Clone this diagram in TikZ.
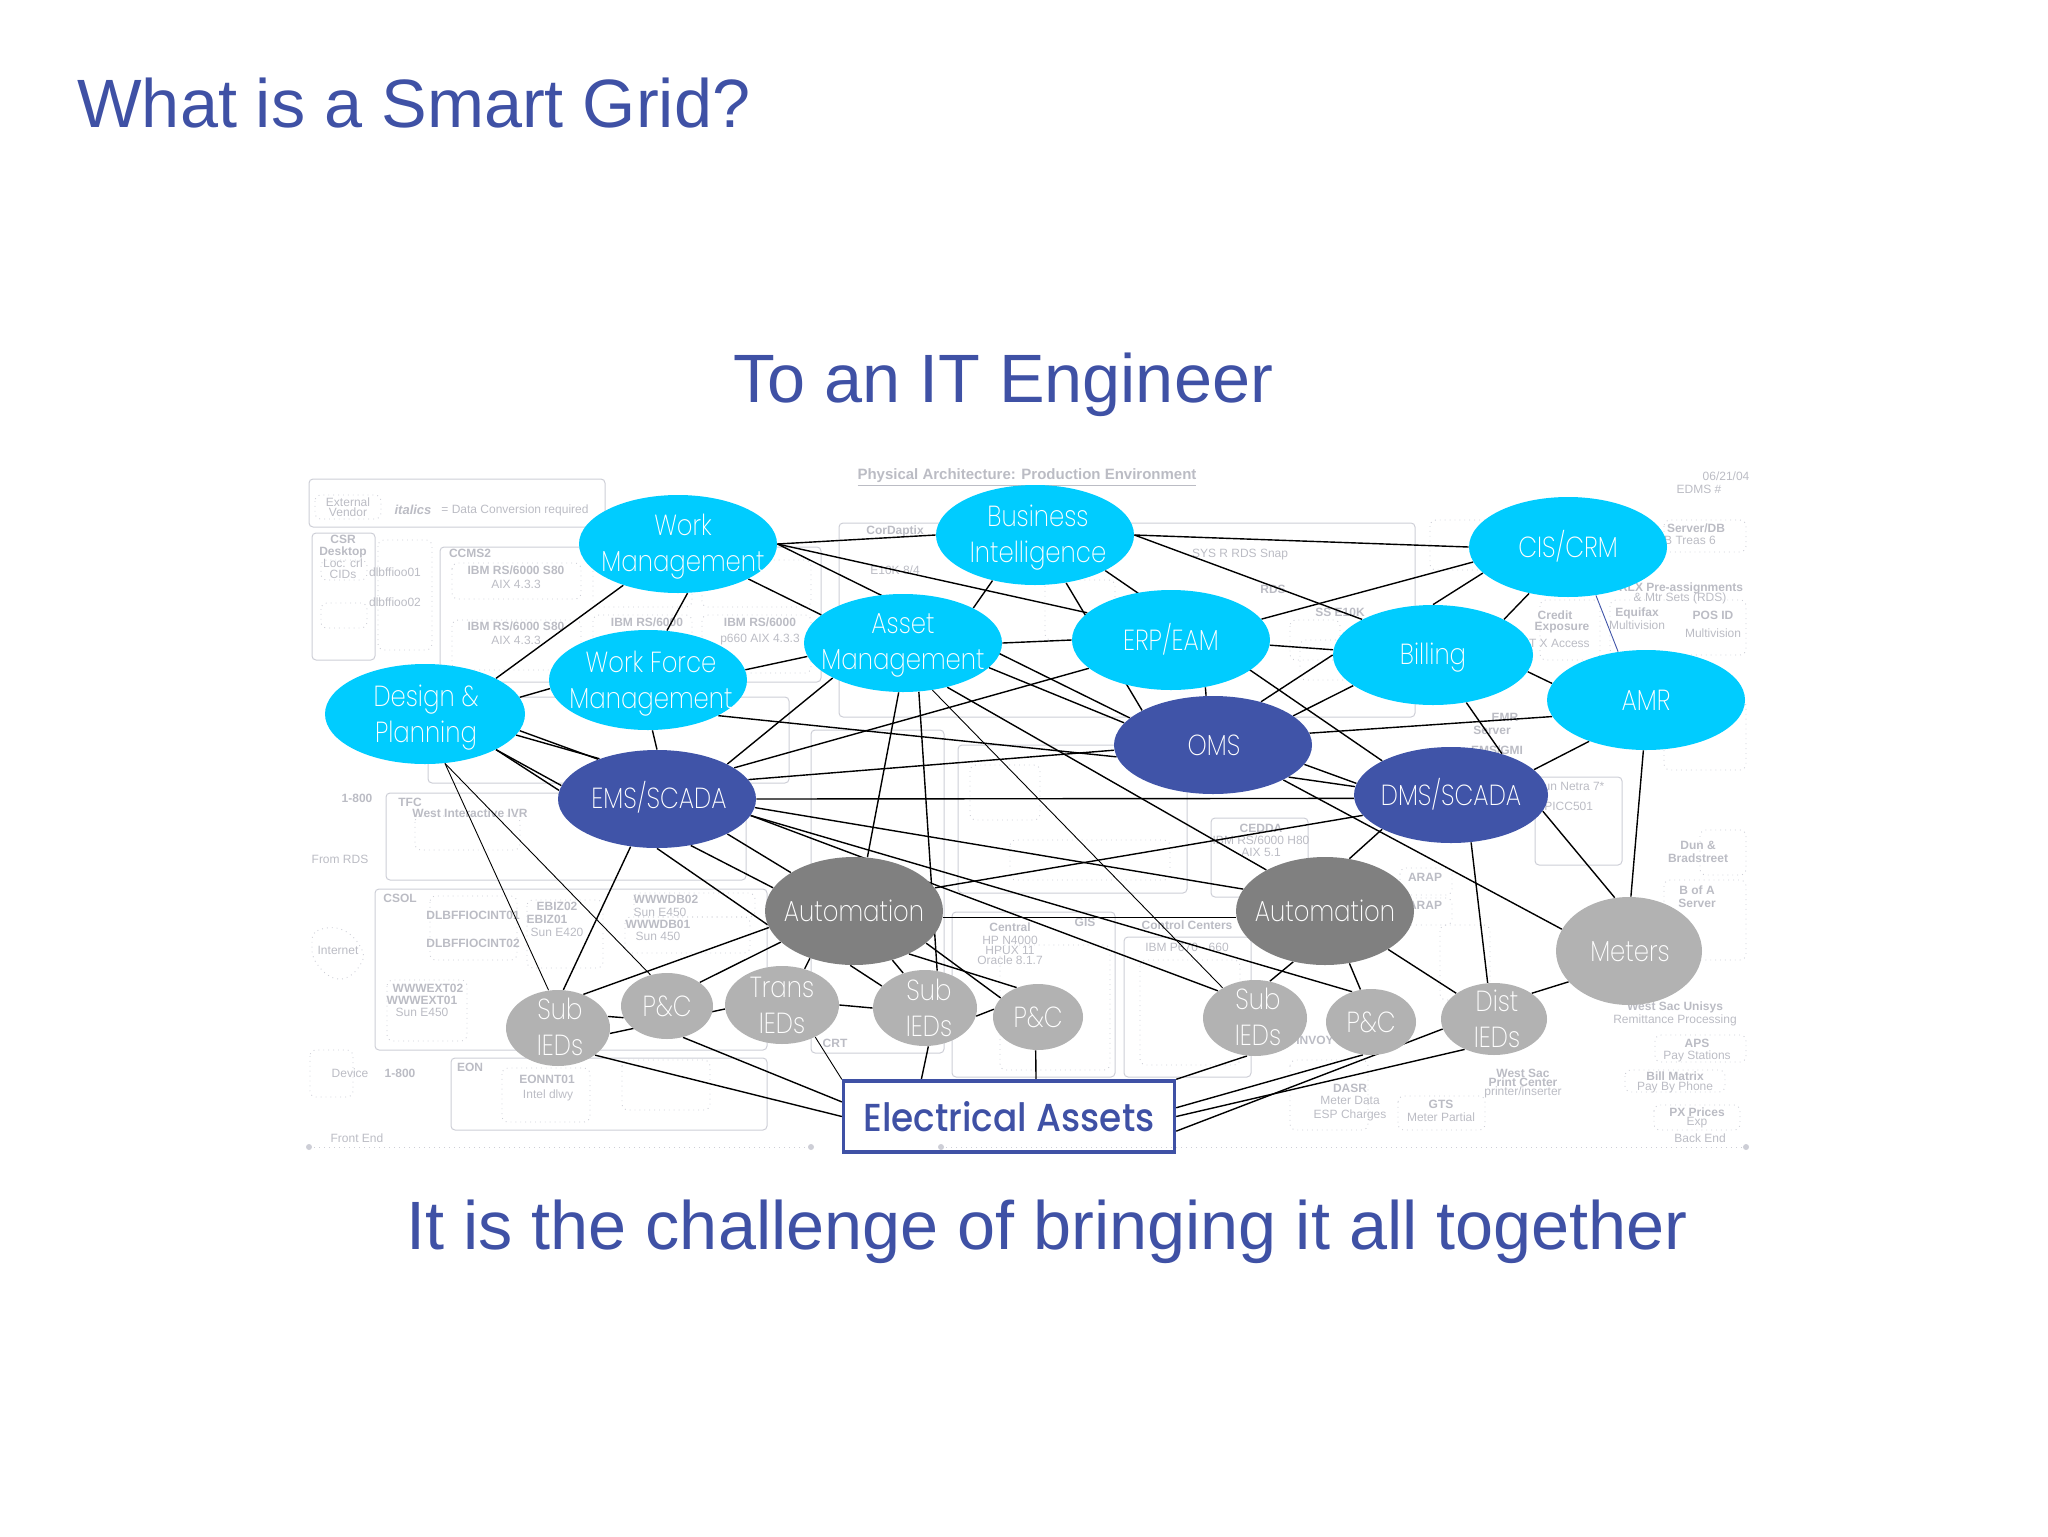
\documentclass[tikz,border=0pt]{standalone}
\usepackage{fontspec}
\setmainfont{Liberation Sans}
\newfontfamily\bubblefont[UprightFont={* ExtraLight},FakeStretch=0.84]{Poppins}
\newfontfamily\assetfont[UprightFont={* Medium},FakeStretch=0.92]{Poppins}
\usetikzlibrary{shapes.geometric}
\definecolor{slideblue}{HTML}{3F51A5}
\definecolor{skycyan}{HTML}{00CCFF}
\definecolor{scadablue}{HTML}{4054A8}
\definecolor{autogray}{HTML}{808080}
\definecolor{iedgray}{HTML}{B2B2B2}
\definecolor{faintgray}{HTML}{CDCED6}
\definecolor{fainttext}{HTML}{BBBCC4}
\pgfdeclarelayer{faint}
\pgfdeclarelayer{wires}
\pgfsetlayers{faint,wires,main}
\tikzset{
	headline/.style={font=\fontsize{34.2}{38}\selectfont, text=slideblue, inner sep=0pt},
	bubble/.style={shape=ellipse, inner sep=0pt, minimum width=2*#1*0.5pt},
	tall/.style={minimum height=2*#1*0.5pt},
	erpbubble/.style={fill=skycyan},
	scadabubble/.style={fill=scadablue},
	autobubble/.style={fill=autogray},
	iedbubble/.style={fill=iedgray},
	bubbletext/.style={font=\bubblefont\fontsize{14.5}{18}\selectfont, text=white, align=center, inner sep=0pt},
	twoline/.style={bubbletext, yshift=-1.3pt},
	wire/.style={black, line width=0.7pt},
	thinwire/.style={black, line width=0.45pt},
	faintline/.style={faintgray, line width=0.5pt, rounded corners=2pt},
	faintdots/.style={faintgray, line width=0.45pt, dotted, rounded corners=3pt},
	faintlabel/.style={font=\fontsize{6}{7}\selectfont, text=fainttext, inner sep=0pt},
	faintbold/.style={font=\bfseries\fontsize{6}{7}\selectfont, text=fainttext, inner sep=0pt},
}
\begin{document}
\begin{tikzpicture}[x=0.5pt, y=-0.5pt]
	\useasboundingbox (0,0) rectangle (2048,1536);
	% Headlines:
	\node[headline, anchor=west] (title) at (77,103) {What is a Smart Grid?};
	\node[headline] (subtitle) at (1003,385) {To an IT Engineer};
	\node[headline] (closing) at (1047,1232) {It is the challenge of bringing it all together};
	% Faded architecture sheet behind the bubbles:
	\begin{pgfonlayer}{faint}
		\foreach \xa/\ya/\xb/\yb in {309/479/605/527, 312/533/375/660, 440/547/821/682, 428/697/789/783, 386/793/746/880, 375/889/767/1050, 451/1058/767/1130, 839/523/1415/717, 811/730/944/1053, 958/745/1187/893, 952/912/1115/1077, 1124/937/1251/1077, 1211/818/1308/897, 1535/777/1622/865}
			\draw[faintline] (\xa,\ya) rectangle (\xb,\yb);
		\foreach \xa/\ya/\xb/\yb in {315/495/381/519, 452/563/581/599, 452/620/581/670, 593/560/692/607, 702/560/811/607, 593/615/692/673, 702/615/811/673, 321/560/367/580, 321/603/367/628, 378/540/432/650, 1664/520/1746/552, 1610/600/1746/655, 1540/600/1600/660, 1664/700/1746/770, 1700/830/1746/875, 1664/880/1746/960, 1655/1035/1746/1062, 1625/1070/1725/1092, 1654/1105/1740/1130, 1290/1060/1368/1130, 1398/1096/1485/1130, 1400/868/1452/895, 1400/898/1452/925, 1440/925/1490/1000, 310/1050/353/1097, 502/1068/590/1122, 622/1060/710/1110, 430/896/517/960, 527/900/603/968, 625/917/750/953, 634/893/755/917, 387/980/467/1041, 415/816/520/850, 1430/520/1505/570, 1045/580/1115/640, 1290/620/1340/660, 1300/640/1400/680, 1000/945/1110/1070, 1140/960/1240/1065, 970/765/1040/820, 1010/840/1170/880}
			\draw[faintdots] (\xa,\ya) rectangle (\xb,\yb);
		\draw[faintdots] (312,933) .. controls (330,925) and (350,925) .. (365,956) .. controls (350,985) and (330,985) .. (312,956) -- cycle;
		\draw[faintline, dotted] (309,1147) -- (811,1147);
		\draw[faintline, dotted] (941,1147) -- (1746,1147);
		\foreach \x/\y in {309/1147, 811/1147, 941/1147, 1746/1147}
			\fill[faintgray] (\x,\y) circle (3);
		\foreach [count=\i] \x/\y/\t in {348/502/External, 348/512/Vendor, 515/510/{= Data Conversion required}, 343/563/Loc: crl, 343/574/CIDs, 395/572/{dlbffioo01}, 395/602/{dlbffioo02}, 516/584/{AIX 4.3.3}, 516/640/{AIX 4.3.3}, 760/640/{p660 AIX 4.3.3}, 340/859/{From RDS}, 350/1073/Device, 338/950/Internet, 548/1095/{Intel dlwy}, 895/570/{E10K 8/4}, 1240/555/{SYS R RDS Snap}, 1010/940/{HP N4000}, 1010/950/{HPUX 11}, 1010/960/{Oracle 8.1.7}, 1187/947/{IBM P670 - 660}, 1261/840/{IBM RS/6000 H80}, 1261/852/{AIX 5.1}, 1560/806/{PGPICC501}, 1570/786/{Sun Netra 7*}, 1690/540/{B Treas 6}, 1680/598/{\& Mtr Sets (RDS)}, 1555/643/{NT X Access}, 1637/625/Multivision, 1713/633/Multivision, 1675/1020/{Remittance Processing}, 1697/1056/{Pay Stations}, 1675/1087/{Pay By Phone}, 1697/1123/{Exp}, 1441/1117/{Meter Partial}, 1523/1092/{printer/inserter}, 357/1138/{Front End}, 1700/1138/{Back End}, 1726/476/{06/21/04}, 1699/489/{EDMS \#}, 1350/1100/{Meter Data}, 1350/1115/{ESP Charges}, 660/912/{Sun E450}, 658/936/{Sun 450}, 422/1012/{Sun E450}, 557/932/{Sun E420}}
			\node[faintlabel] (flabel\i) at (\x,\y) {\t};
		\foreach [count=\i] \x/\y/\t in {343/539/CSR, 343/552/Desktop, 470/553/{CCMS2}, 516/570/{IBM RS/6000 S80}, 516/626/{IBM RS/6000 S80}, 647/622/{IBM RS/6000}, 760/622/{IBM RS/6000}, 410/802/TFC, 470/813/{West Interactive IVR}, 357/798/{1-800}, 400/898/CSOL, 470/1067/EON, 547/1079/EONNT01, 400/1073/{1-800}, 895/531/CorDaptix, 1273/589/RDS, 1340/612/{SS E10K}, 1261/828/CEDDA, 1696/528/{Server/DB}, 1681/588/{RLX Pre-assignments}, 1555/615/Credit, 1562/628/Exposure, 1637/613/Equifax, 1713/615/{POS ID}, 1698/845/{Dun \&}, 1698/858/Bradstreet, 1697/890/{B of A}, 1697/903/Server, 1675/1007/{West Sac Unisys}, 1697/1043/APS, 1675/1076/{Bill Matrix}, 1697/1112/{PX Prices}, 1441/1104/GTS, 1425/877/ARAP, 1425/905/ARAP, 1523/1073/{West Sac}, 1523/1082/{Print Center}, 835/1043/CRT, 1010/927/Central, 1187/925/{Control Centers}, 1085/922/GIS, 1505/717/EMR, 1492/730/Server, 1497/750/{EMS/GMI}, 1350/1088/DASR, 1315/1040/INVOY, 666/899/WWWDB02, 658/924/WWWDB01, 428/988/WWWEXT02, 422/1000/WWWEXT01, 557/906/EBIZ02, 547/919/EBIZ01, 473/915/DLBFFIOCINT01, 473/943/DLBFFIOCINT02}
			\node[faintbold] (fbold\i) at (\x,\y) {\t};
		\node[faintbold, font=\bfseries\fontsize{7.5}{8}\selectfont] (sheettitle) at (1027,478) {\underline{Physical Architecture: Production Environment}};
		\node[faintbold, font=\bfseries\itshape\fontsize{6.5}{8}\selectfont] (legenditalics) at (413,510) {italics};
	\end{pgfonlayer}
	% Bubbles and their labels:
	\node[bubble=99, tall=49, erpbubble] (wm) at (678,544){} node[twoline] (wmtext) at (683,544){Work\\Management};
	\node[bubble=99, tall=50, erpbubble] (bi) at (1035,535){} node[twoline] (bitext) at (1038,535){Business\\Intelligence};
	\node[bubble=99, tall=49, erpbubble] (asset) at (903,643){} node[twoline] (assettext) at (903,643){Asset\\Management};
	\node[bubble=99, tall=50, erpbubble] (wf) at (648,680){} node[twoline] (wftext) at (651,681){Work Force\\Management};
	\node[bubble=100, tall=50, erpbubble] (design) at (425,714){} node[twoline] (designtext) at (426,715){Design \&\\Planning};
	\node[bubble=99, tall=50, erpbubble] (erp) at (1171,640){} node[bubbletext] (erptext) at (1171,639){ERP/EAM};
	\node[bubble=100, tall=50, erpbubble] (billing) at (1433,655){} node[bubbletext] (billingtext) at (1433,658){Billing};
	\node[bubble=99, tall=50, erpbubble] (cis) at (1568,547){} node[bubbletext] (cistext) at (1568,546){CIS/CRM};
	\node[bubble=99, tall=50, erpbubble] (amr) at (1646,700){} node[bubbletext] (amrtext) at (1646,700){AMR};
	\node[bubble=99, tall=49, scadabubble] (ems) at (657,799){} node[bubbletext] (emstext) at (659,797){EMS/SCADA};
	\node[bubble=99, tall=49, scadabubble] (oms) at (1213,745){} node[bubbletext] (omstext) at (1214,745){OMS};
	\node[bubble=97, tall=48, scadabubble] (dms) at (1451,795){} node[bubbletext] (dmstext) at (1451,794){DMS/SCADA};
	\node[bubble=89, tall=54, autobubble] (auto1) at (854,911){} node[bubbletext] (auto1text) at (854,911){Automation};
	\node[bubble=89, tall=54, autobubble] (auto2) at (1325,911){} node[bubbletext] (auto2text) at (1325,911){Automation};
	\node[bubble=52, tall=38, iedbubble] (sub1) at (558,1028){} node[bubbletext] (sub1text) at (560,1027){Sub\\IEDs};
	\node[bubble=46, tall=33, iedbubble] (pc1) at (667,1006){} node[bubbletext] (pc1text) at (667,1006){P\&C};
	\node[bubble=57, tall=39, iedbubble] (trans) at (782,1005){} node[bubbletext] (transtext) at (782,1005){Trans\\IEDs};
	\node[bubble=52, tall=38, iedbubble] (sub2) at (925,1008){} node[bubbletext] (sub2text) at (929,1008){Sub\\IEDs};
	\node[bubble=45, tall=33, iedbubble] (pc2) at (1038,1017){} node[bubbletext] (pc2text) at (1038,1017){P\&C};
	\node[bubble=52, tall=38, iedbubble] (sub3) at (1255,1018){} node[bubbletext] (sub3text) at (1258,1017){Sub\\IEDs};
	\node[bubble=45, tall=33, iedbubble] (pc3) at (1371,1022){} node[bubbletext] (pc3text) at (1371,1022){P\&C};
	\node[bubble=53, tall=36, iedbubble] (dist) at (1494,1019){} node[bubbletext] (disttext) at (1497,1019){Dist\\IEDs};
	\node[bubble=73, tall=54, iedbubble] (meters) at (1629,951){} node[bubbletext] (meterstext) at (1630,952){Meters};
	\node[shape=rectangle, draw=slideblue, line width=1.7pt, minimum width=331*0.5pt, minimum height=71*0.5pt, inner sep=0pt] (ea) at (1009,1116.5){} node[font=\assetfont\fontsize{19.5}{22}\selectfont, text=slideblue, inner sep=0pt] (eatext) at (1009,1117){Electrical Assets};
	% Connectors, behind the bubbles:
	\begin{pgfonlayer}{wires}
		\foreach \a/\b in {wm.east/bi.west, bi.east/cis.west, bi.east/billing.north west, wm.east/erp.162, wm.east/oms.162, wm.south east/asset.161, bi.south east/dms.north west, bi.-57/oms.154, bi.227/asset.north east,
			asset.east/erp.west, erp.-3/billing.177, erp.13/cis.189, billing.north/cis.197, billing.west/oms.42, billing.201/oms.20, erp.-54/oms.98, ems.22/erp.199, asset.-16/oms.166, wf.south east/oms.187, ems.12/oms.183,
			ems.east/dms.182, ems.-5/auto2.165, ems.-10/sub3.north west, ems.-10/pc3.122, asset.-95/auto1.76, asset.-72/sub2.72, asset.south west/ems.north east, asset.-45/auto2.145, auto1.-4/auto2.184, auto1.16/dms.193,
			auto2.65/dms.south west, oms.-12/dms.173, oms.-23/dms.175, oms.south east/meters.162, dms.-67/dist.100, dms.17/amr.216, dms.-10/meters.105, billing.-55/dms.39, oms.7/amr.190, billing.-10/amr.170, cis.230/billing.north east, amr.-93/meters.88,
			wm.217/design.north east, wm.-79/wf.69, wf.185/design.10, wf.-85/ems.north, asset.188/wf.6, design.-13/ems.145, design.-10/ems.146, design.south east/ems.172, design.south east/ems.175,
			ems.241/sub1.82, ems.-54/auto1.164, ems.south/auto1.189, ems.south east/auto1.north west, auto1.191/sub1.53, auto1.203/pc1.north east, sub1.13/pc1.195, sub1.-6/trans.184, trans.east/sub2.west,
			pc1.-63/ea.175, sub1.south east/ea.west, sub2.-85/ea.157, pc2.-94/ea.54, sub3.258/ea.north east, pc3.256/ea.3, dist.191/ea.-5, dist.226/ea.east, meters.207/dist.north east,
			auto2.238/sub3.68, auto2.-65/pc3.108, auto2.south east/dist.north west, auto1.-94/sub2.153, auto1.-52/sub2.122, auto1.-38/pc2.126, auto1.-24/pc2.153, auto1.227/trans.58, sub2.-9/pc2.170}
			\draw[wire] (\a) -- (\b);
		\foreach \a/\b in {design.-68/sub1.104, design.-68/pc1.118, asset.-58/sub3.137, trans.-44/ea.north west}
			\draw[thinwire] (\a) -- (\b);
		\draw[thinwire, scadablue] (cis.-60) -- (amr.120);
	\end{pgfonlayer}
\end{tikzpicture}
\end{document}
